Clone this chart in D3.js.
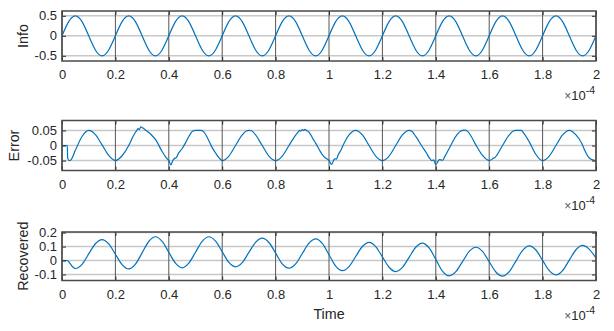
<!DOCTYPE html>
<html><head><meta charset="utf-8">
<script src="https://cdn.jsdelivr.net/npm/d3@7"></script>
<style>
body{margin:0;background:#fff}
svg{display:block}
text{font-family:"Liberation Sans",Arial,Helvetica,sans-serif;fill:#262626}
</style>
</head><body>
<svg id="c" width="614" height="331"></svg>
<script>
// ---------- data (x in units of 1e-4 s) ----------
const xTicks = [0,0.2,0.4,0.6,0.8,1,1.2,1.4,1.6,1.8,2];
const xTickLabels = ["0","0.2","0.4","0.6","0.8","1","1.2","1.4","1.6","1.8","2"];
const xExponentLabel = "-4";
const xLabel = "Time";

const infoStep = 0.025;
const infoV = [
 0,0.354,0.5,0.354,0,-0.354,-0.5,-0.354,
 0,0.354,0.5,0.354,0,-0.354,-0.5,-0.354,
 0,0.354,0.5,0.354,0,-0.354,-0.5,-0.354,
 0,0.354,0.5,0.354,0,-0.354,-0.5,-0.354,
 0,0.354,0.5,0.354,0,-0.354,-0.5,-0.354,
 0,0.354,0.5,0.354,0,-0.354,-0.5,-0.354,
 0,0.354,0.5,0.354,0,-0.354,-0.5,-0.354,
 0,0.354,0.5,0.354,0,-0.354,-0.5,-0.354,
 0,0.354,0.5,0.354,0,-0.354,-0.5,-0.354,
 0,0.354,0.5,0.354,0,-0.354,-0.5,-0.354,
 0];
const infoTicks = [-0.5,0,0.5];
const infoTickLabels = ["-0.5","0","0.5"];

const errT = [
 0,0.02,0.021,0.027,0.032,0.05,0.075,0.1,0.125,0.15,0.175,0.2,
 0.225,0.25,0.265,0.275,0.28,0.285,0.29,0.295,0.3,0.305,0.31,0.315,0.325,0.335,0.35,0.375,0.39,0.4,
 0.408,0.415,0.42,0.428,0.436,0.45,0.462,0.475,0.49,0.5,0.51,0.52,0.53,0.545,0.56,0.575,0.59,0.6,
 0.625,0.65,0.675,0.69,0.7,0.71,0.725,0.75,0.775,0.8,
 0.825,0.85,0.87,0.885,0.89,0.895,0.9,0.905,0.91,0.915,0.92,0.93,0.94,0.95,0.966,0.975,0.985,0.995,1.0,
 1.01,1.018,1.022,1.028,1.035,1.045,1.055,1.075,1.1,1.125,1.15,1.175,1.2,
 1.225,1.25,1.275,1.3,1.31,1.325,1.35,1.365,1.375,1.385,1.392,1.4,1.407,1.413,1.42,1.426,1.434,1.45,
 1.475,1.49,1.5,1.51,1.52,1.53,1.55,1.575,1.6,1.61,1.615,1.62,1.63,1.65,
 1.675,1.69,1.7,1.72,1.73,1.75,1.775,1.79,1.8,1.825,1.85,1.875,1.9,1.925,1.946,1.96,1.97,1.98,1.99,2.0];
const errV = [
 0,0,-0.04,-0.05,-0.049,-0.016,0.03,0.05,0.036,0.002,-0.033,-0.05,
 -0.034,0,0.028,0.044,0.05,0.056,0.053,0.062,0.06,0.057,0.053,0.05,0.043,0.035,0.02,-0.02,-0.04,-0.05,
 -0.064,-0.05,-0.044,-0.04,-0.026,-0.01,0.008,0.03,0.048,0.05,0.05,0.05,0.046,0.025,-0.003,-0.025,-0.043,-0.05,
 -0.035,0,0.035,0.048,0.05,0.049,0.035,0,-0.035,-0.05,
 -0.035,0,0.028,0.045,0.05,0.048,0.053,0.05,0.054,0.05,0.048,0.038,0.022,0.008,-0.018,-0.03,-0.04,-0.046,-0.05,
 -0.063,-0.048,-0.044,-0.045,-0.03,-0.015,0.005,0.035,0.05,0.035,0,-0.035,-0.05,
 -0.035,0,0.035,0.05,0.047,0.03,-0.005,-0.025,-0.04,-0.05,-0.048,-0.063,-0.055,-0.047,-0.048,-0.049,-0.036,-0.01,
 0.03,0.046,0.05,0.051,0.046,0.034,0.002,-0.033,-0.05,-0.046,-0.042,-0.041,-0.03,0,
 0.035,0.048,0.05,0.05,0.04,0.012,-0.03,-0.046,-0.05,-0.035,0,0.035,0.05,0.035,0.008,-0.02,-0.036,-0.045,-0.048,-0.05];
const errTicks = [-0.05,0,0.05];
const errTickLabels = ["-0.05","0","0.05"];

const recT = [0,0.02,0.03,0.04,0.05,
 0.075,0.1,0.125,0.15,0.175,0.2,0.225,0.25,0.275,0.3,0.325,0.35,0.375,0.4,0.425,0.45,
 0.475,0.5,0.525,0.55,0.575,0.6,0.625,0.65,0.675,0.7,0.725,0.75,0.775,0.8,0.825,0.85,
 0.875,0.9,0.925,0.95,0.975,1.0,1.025,1.05,1.075,1.1,1.125,1.15,1.175,1.2,1.225,1.25,
 1.275,1.3,1.325,1.35,1.375,1.4,1.425,1.45,1.475,1.5,1.525,1.55,1.575,1.6,1.625,1.65,
 1.675,1.7,1.725,1.75,1.775,1.8,1.825,1.85,1.875,1.9,1.925,1.95,1.975,2.0];
const recV = [0,0,-0.02,-0.045,-0.057,
 -0.027,0.047,0.12,0.15, 0.119,0.045,-0.029,-0.06, -0.026,0.055,0.136,0.17, 0.137,0.059,-0.019,-0.052,
 -0.019,0.059,0.137,0.17, 0.139,0.063,-0.014,-0.045, -0.015,0.058,0.13,0.16, 0.129,0.053,-0.024,-0.055,
 -0.024,0.05,0.124,0.155, 0.122,0.041,-0.04,-0.073, -0.044,0.029,0.1,0.13, 0.1,0.026,-0.048,-0.079,
 -0.049,0.023,0.095,0.125, 0.09,0.008,-0.076,-0.11, -0.08,-0.008,0.065,0.095, 0.065,-0.009,-0.082,-0.112,
 -0.08,-0.004,0.073,0.105, 0.075,0.001,-0.073,-0.103, -0.072,0.003,0.077,0.108, 0.08,0.018];
const recTicks = [-0.1,0,0.1,0.2];
const recTickLabels = ["-0.1","0","0.1","0.2"];

// ---------- layout ----------
const svg = d3.select("#c");
const left = 62, right = 596;
const x = d3.scaleLinear().domain([0,2]).range([left,right]);
const lineColor = "#0072BD";

const panels = [
  {name:"Info", top:11, bottom:61, dom:[-0.63,0.62], ticks:infoTicks, labels:infoTickLabels, labX:27.5,
   data: infoV.map((v,i)=>[i*infoStep, v]), curve:d3.curveNatural},
  {name:"Error", top:120.5, bottom:170.5, dom:[-0.083,0.083], ticks:errTicks, labels:errTickLabels, labX:18.5,
   data: errT.map((t,i)=>[t, errV[i]]), curve:d3.curveMonotoneX},
  {name:"Recovered", top:232, bottom:280.5, dom:[-0.143,0.204], ticks:recTicks, labels:recTickLabels, labX:27.5,
   data: recT.map((t,i)=>[t, recV[i]]), curve:d3.curveMonotoneX}
];

panels.forEach((p, idx) => {
  const y = d3.scaleLinear().domain(p.dom).range([p.bottom, p.top]);
  const g = svg.append("g");
  const h = p.bottom - p.top;

  g.append("rect").attr("x",left).attr("y",p.top).attr("width",right-left).attr("height",h).attr("fill","#fff");

  // horizontal grid
  g.append("g").selectAll("line").data(p.ticks).join("line")
    .attr("x1",left).attr("x2",right)
    .attr("y1",d=>y(d)).attr("y2",d=>y(d))
    .attr("stroke","#c8c8c8").attr("stroke-width",1.5);
  // vertical grid
  g.append("g").selectAll("line").data(xTicks).join("line")
    .attr("x1",d=>x(d)).attr("x2",d=>x(d))
    .attr("y1",p.top).attr("y2",p.bottom)
    .attr("stroke","#555").attr("stroke-width",1);

  // data line
  const clipId = "clip"+idx;
  svg.append("clipPath").attr("id",clipId).append("rect")
    .attr("x",left).attr("y",p.top).attr("width",right-left).attr("height",h);
  g.append("path").datum(p.data)
    .attr("clip-path",`url(#${clipId})`)
    .attr("fill","none").attr("stroke",lineColor).attr("stroke-width",1.2)
    .attr("stroke-linejoin","round")
    .attr("d", d3.line().x(d=>x(d[0])).y(d=>y(d[1])).curve(p.curve));

  // axes (ticks inward) via d3 axes
  const tickFmtX = (d,i)=>xTickLabels[i];
  const axB = g.append("g").attr("transform",`translate(0,${p.bottom})`)
    .call(d3.axisBottom(x).tickValues(xTicks).tickFormat(tickFmtX).tickSizeInner(-4).tickSizeOuter(0).tickPadding(9));
  const axT = g.append("g").attr("transform",`translate(0,${p.top})`)
    .call(d3.axisTop(x).tickValues(xTicks).tickFormat("").tickSizeInner(-4).tickSizeOuter(0));
  const tickFmtY = (d,i)=>p.labels[i];
  const axL = g.append("g").attr("transform",`translate(${left},0)`)
    .call(d3.axisLeft(y).tickValues(p.ticks).tickFormat(tickFmtY).tickSizeInner(-4).tickSizeOuter(0).tickPadding(5));
  const axR = g.append("g").attr("transform",`translate(${right},0)`)
    .call(d3.axisRight(y).tickValues(p.ticks).tickFormat("").tickSizeInner(-4).tickSizeOuter(0));
  [axB,axT,axL,axR].forEach(a=>{
    a.select(".domain").remove();
    a.selectAll(".tick line").attr("stroke","#262626").attr("stroke-width",1);
    a.selectAll("text").attr("fill","#262626").attr("font-size",13)
      .attr("font-family",'"Liberation Sans",Arial,sans-serif');
  });

  // box
  g.append("rect").attr("x",left).attr("y",p.top).attr("width",right-left).attr("height",h)
    .attr("fill","none").attr("stroke","#4a4a4a").attr("stroke-width",1.5);

  // y label
  g.append("text")
    .attr("transform",`translate(${p.labX},${(p.top+p.bottom)/2}) rotate(-90)`)
    .attr("text-anchor","middle").attr("font-size",14.3).text(p.name);

  // x exponent label
  const ex = g.append("text").attr("x",right-1).attr("y",p.bottom+39)
    .attr("text-anchor","end").attr("font-size",13);
  ex.append("tspan").attr("font-size",12).attr("fill","#555").text("\u00d7");
  ex.append("tspan").text("10");
  ex.append("tspan").attr("font-size",10.5).attr("dy",-6).text(xExponentLabel);

  if (idx === 2) {
    g.append("text").attr("x",(left+right)/2).attr("y",319)
      .attr("text-anchor","middle").attr("font-size",14.3).text(xLabel);
  }
});
</script>
</body></html>
